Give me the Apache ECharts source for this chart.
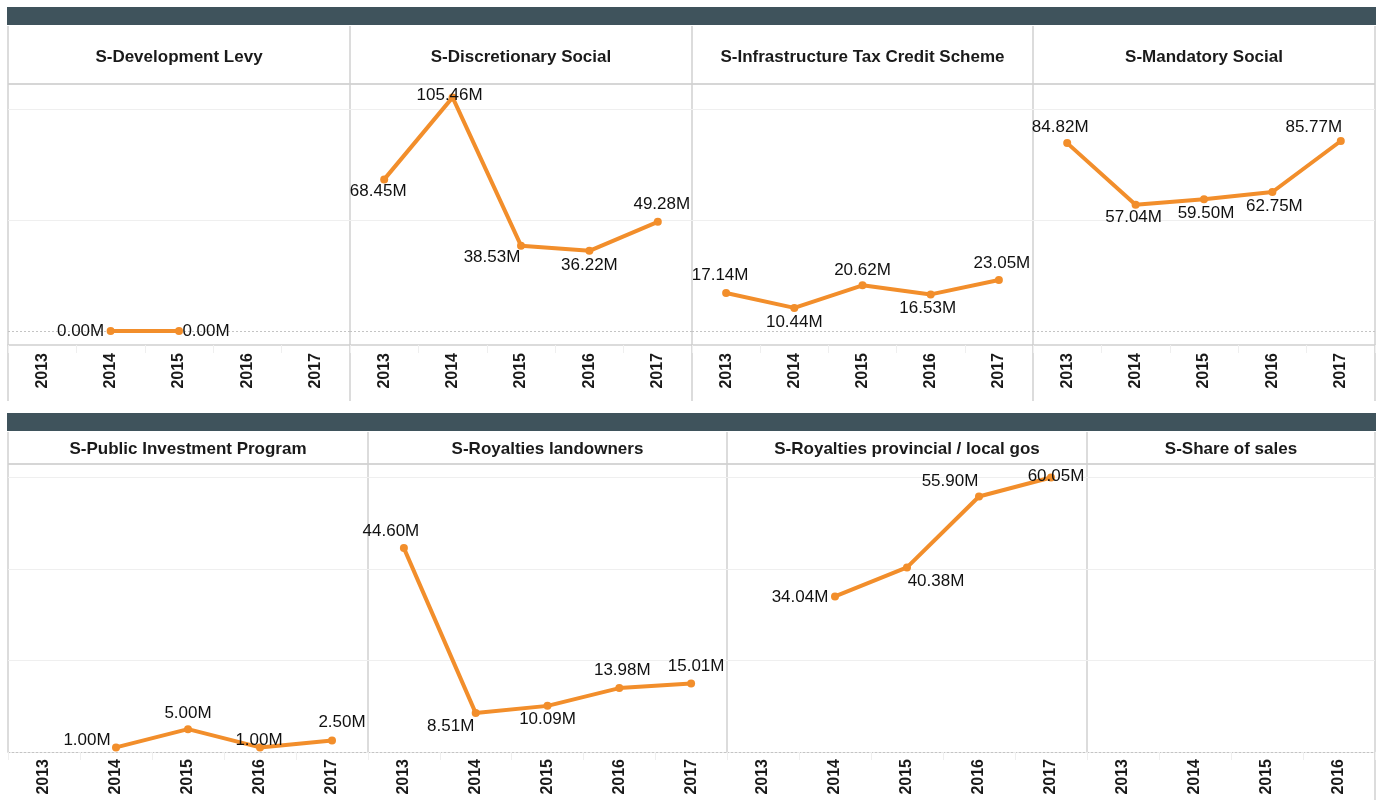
<!DOCTYPE html>
<html>
<head>
<meta charset="utf-8">
<script src="https://cdn.jsdelivr.net/npm/echarts@6/dist/echarts.min.js"></script>
<style>
  html, body { margin: 0; padding: 0; background: #ffffff; }
  #chart { width: 1386px; height: 800px; }
</style>
</head>
<body>
<div id="chart"></div>
<script>
// Year categories on each panel's x axis
const years = ['2013', '2014', '2015', '2016', '2017'];
const shareYears = ['2013', '2014', '2015', '2016'];

// Values in millions, one array per spending category
const developmentLevy = [null, 0.00, 0.00, null, null];
const discretionarySocial = [68.45, 105.46, 38.53, 36.22, 49.28];
const infrastructureTaxCredit = [17.14, 10.44, 20.62, 16.53, 23.05];
const mandatorySocial = [84.82, 57.04, 59.50, 62.75, 85.77];
const publicInvestment = [null, 1.00, 5.00, 1.00, 2.50];
const royaltiesLandowners = [44.60, 8.51, 10.09, 13.98, 15.01];
const royaltiesProvincial = [null, 34.04, 40.38, 55.90, 60.05];
const shareOfSales = [null, null, null, null];

// Reference lines for each row (millions)
const topRowGuides = [50, 100];
const bottomRowGuides = [20, 40, 60];

const ORANGE = '#F28E2B';
const FONT = '"Liberation Sans", Arial, Helvetica, sans-serif';

// Plot band of each row
const TOP = { top: 84, height: 261, yMin: -6.3, yMax: 111.5, guides: topRowGuides, titleY: 56 };
const BOTTOM = { top: 464, height: 288, yMin: 0, yMax: 63, guides: bottomRowGuides, titleY: 448 };

const panels = [
  { title: 'S-Development Levy', cats: years, values: developmentLevy, row: TOP, left: 8, width: 342,
    offsets: [null, [-30, 0], [27, 0], null, null] },
  { title: 'S-Discretionary Social', cats: years, values: discretionarySocial, row: TOP, left: 350, width: 342,
    offsets: [[-6, 12], [-3, -2], [-29, 12], [0, 15], [4, -18]] },
  { title: 'S-Infrastructure Tax Credit Scheme', cats: years, values: infrastructureTaxCredit, row: TOP, left: 692, width: 341,
    offsets: [[-6, -18], [0, 14], [0, -15], [-3, 14], [3, -17]] },
  { title: 'S-Mandatory Social', cats: years, values: mandatorySocial, row: TOP, left: 1033, width: 342,
    offsets: [[-7, -16], [-2, 13], [2, 14], [2, 14], [-27, -14]] },
  { title: 'S-Public Investment Program', cats: years, values: publicInvestment, row: BOTTOM, left: 8, width: 360,
    offsets: [null, [-29, -7], [0, -16], [-1, -7], [10, -18]] },
  { title: 'S-Royalties landowners', cats: years, values: royaltiesLandowners, row: BOTTOM, left: 368, width: 359,
    offsets: [[-13, -17], [-25, 13], [0, 13], [3, -18], [5, -17]] },
  { title: 'S-Royalties provincial / local gos', cats: years, values: royaltiesProvincial, row: BOTTOM, left: 727, width: 360,
    offsets: [null, [-35, 1], [29, 14], [-29, -15], [5, -1]] },
  { title: 'S-Share of sales', cats: shareYears, values: shareOfSales, row: BOTTOM, left: 1087, width: 288,
    offsets: [null, null, null, null] }
];

const grids = [], xAxes = [], yAxes = [], series = [];

panels.forEach((p, i) => {
  const isTop = p.row === TOP;
  grids.push({ left: p.left, top: p.row.top, width: p.width, height: p.row.height, containLabel: false });
  xAxes.push({
    type: 'category', gridIndex: i, data: p.cats, boundaryGap: true,
    axisLine: {
      show: true, onZero: false,
      lineStyle: isTop ? { color: '#cfcfcf', width: 1.5 } : { color: '#c4c4c4', width: 1, type: [2, 2] }
    },
    axisTick: { show: true, length: 8, lineStyle: { color: '#efefef' } },
    axisLabel: { rotate: 90, margin: isTop ? 8 : 7, color: '#1a1a1a', fontWeight: 'bold', fontSize: 16, fontFamily: FONT },
    splitLine: { show: false }
  });
  yAxes.push({ type: 'value', gridIndex: i, min: p.row.yMin, max: p.row.yMax, show: false });

  const guideLines = p.row.guides.map(v => ({ yAxis: v, lineStyle: { color: '#efefef', width: 1, type: 'solid' } }));
  if (isTop) guideLines.push({ yAxis: 0, lineStyle: { color: '#c4c4c4', width: 1, type: [2, 2] } });

  series.push({
    type: 'line', xAxisIndex: i, yAxisIndex: i, z: 3,
    data: p.values.map((v, k) => v == null ? null : {
      value: v,
      label: { offset: p.offsets[k] || [0, 0] }
    }),
    connectNulls: false,
    symbol: 'circle', symbolSize: 8,
    lineStyle: { color: ORANGE, width: 4 },
    itemStyle: { color: ORANGE },
    label: {
      show: true, position: 'inside', color: '#111', fontSize: 17, fontFamily: FONT,
      formatter: d => Number(d.value).toFixed(2) + 'M'
    },
    markLine: { silent: true, symbol: 'none', label: { show: false }, z: 1, animation: false, data: guideLines },
    animation: false
  });
});

// Row bands, header titles and panel dividers
const graphics = [];
const band = y => ({ type: 'rect', shape: { x: 7, y: y, width: 1369, height: 18 }, style: { fill: '#3f535c' }, z: 0 });
const hLine = (x1, x2, y, c, w) => ({ type: 'line', shape: { x1, y1: y, x2, y2: y }, style: { stroke: c, lineWidth: w }, z: 0 });
const vLine = (x, y1, y2) => ({ type: 'line', shape: { x1: x, y1, x2: x, y2 }, style: { stroke: '#d0d0d0', lineWidth: 1.5 }, z: 0 });

graphics.push(band(7), band(413));
graphics.push(hLine(8, 1375, 84, '#d6d6d6', 2), hLine(8, 1375, 464, '#d6d6d6', 2));
[8, 350, 692, 1033, 1375].forEach(x => graphics.push(vLine(x, 26, 401)));
[8, 368, 727, 1087].forEach(x => graphics.push(vLine(x, 432, 752)));
graphics.push(vLine(1375, 432, 800));

panels.forEach(p => {
  graphics.push({
    type: 'text', z: 5,
    x: p.left + p.width / 2, y: p.row.titleY + 1,
    style: {
      text: p.title, fill: '#1a1a1a', font: 'bold 17px ' + FONT,
      textAlign: 'center', textVerticalAlign: 'middle'
    }
  });
});

const chart = echarts.init(document.getElementById('chart'), null, { renderer: 'canvas' });
chart.setOption({
  backgroundColor: '#ffffff',
  animation: false,
  grid: grids,
  xAxis: xAxes,
  yAxis: yAxes,
  series: series,
  graphic: graphics
});
</script>
</body>
</html>
